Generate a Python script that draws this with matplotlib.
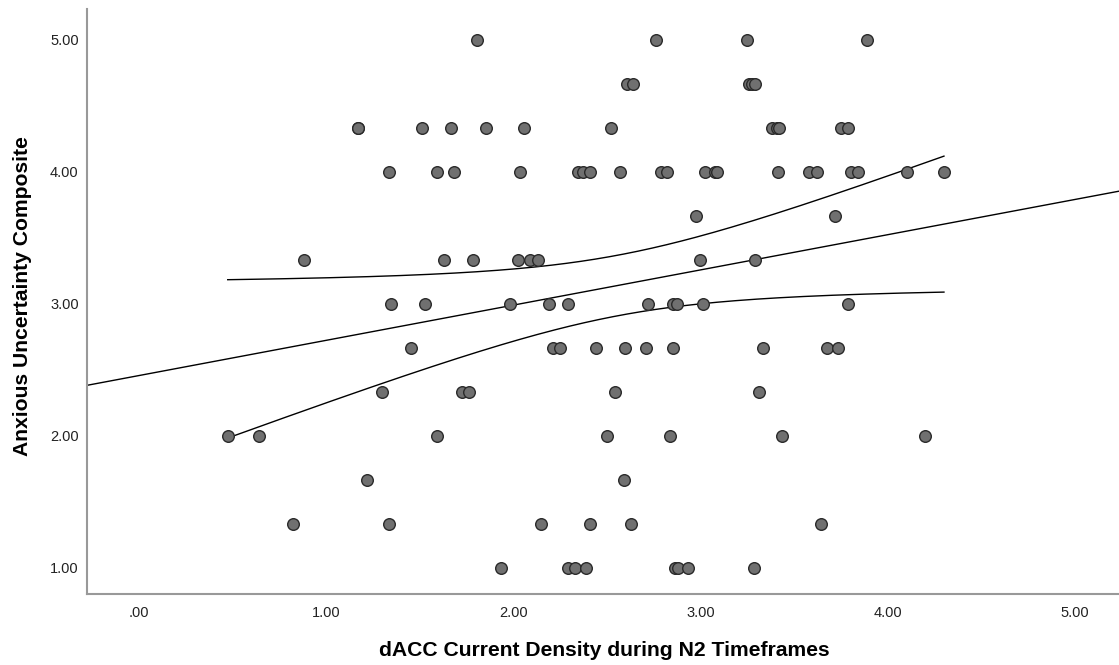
import numpy as np
import matplotlib
matplotlib.use("Agg")
import matplotlib.pyplot as plt

plt.rcParams['font.family'] = ['Liberation Sans', 'DejaVu Sans']

# Data: dACC current density (x) by anxious uncertainty composite level (y)
x_5_00 = [1.806, 2.762, 3.248, 3.889]
x_4_67 = [2.607, 2.639, 3.259, 3.274, 3.291]
x_4_33 = [1.170, 1.172, 1.512, 1.667, 1.854, 2.057, 2.521, 3.381, 3.408, 3.419, 3.750, 3.787]
x_4_00 = [1.335, 1.592, 1.683, 2.035, 2.345, 2.372, 2.409, 2.569, 2.788, 2.821,
          3.024, 3.077, 3.088, 3.413, 3.579, 3.622, 3.803, 3.841, 4.103, 4.300]
x_3_67 = [2.974, 3.718]
x_3_33 = [0.881, 1.629, 1.784, 2.025, 2.089, 2.131, 2.997, 3.291]
x_3_00 = [1.346, 1.528, 1.982, 2.190, 2.292, 2.719, 2.852, 2.874, 3.013, 3.787]
x_2_67 = [1.451, 2.210, 2.249, 2.441, 2.596, 2.708, 2.852, 3.333, 3.675, 3.734]
x_2_33 = [1.300, 1.724, 1.763, 2.544, 3.313]
x_2_00 = [0.474, 0.641, 1.593, 2.500, 2.838, 3.434, 4.199]
x_1_67 = [1.218, 2.591]
x_1_33 = [0.824, 1.334, 2.146, 2.411, 2.628, 3.641]
x_1_00 = [1.935, 2.293, 2.329, 2.388, 2.863, 2.877, 2.933, 3.285]

levels = [5.0, 14/3, 13/3, 4.0, 11/3, 10/3, 3.0, 8/3, 7/3, 2.0, 5/3, 4/3, 1.0]
groups = [x_5_00, x_4_67, x_4_33, x_4_00, x_3_67, x_3_33, x_3_00, x_2_67,
          x_2_33, x_2_00, x_1_67, x_1_33, x_1_00]

x = np.concatenate([np.array(g) for g in groups])
y = np.concatenate([np.full(len(g), lv) for g, lv in zip(groups, levels)])

x_ticks = [0, 1, 2, 3, 4, 5]
x_tick_labels = ['.00', '1.00', '2.00', '3.00', '4.00', '5.00']
y_ticks = [1, 2, 3, 4, 5]
y_tick_labels = ['1.00', '2.00', '3.00', '4.00', '5.00']

# Linear fit and 95% CI of the mean
n = len(x)
b1, b0 = np.polyfit(x, y, 1)
resid = y - (b0 + b1 * x)
s = np.sqrt(np.sum(resid ** 2) / (n - 2))
xm = x.mean()
sxx = np.sum((x - xm) ** 2)
tval = 1.9845  # t(0.975, df=97)

fig = plt.figure(figsize=(11.19, 6.65), dpi=100)
ax = fig.add_axes([0.0777, 0.1068, 0.9223, 0.8797])

xlim = (-0.278, 5.235)
ylim = (0.803, 5.235)

xl = np.linspace(xlim[0], xlim[1], 200)
ax.plot(xl, b0 + b1 * xl, color='black', lw=1.0, zorder=2)

xc = np.linspace(x.min(), x.max(), 200)
se = s * np.sqrt(1 / n + (xc - xm) ** 2 / sxx)
yc = b0 + b1 * xc
ax.plot(xc, yc + tval * se, color='black', lw=1.0, zorder=2)
ax.plot(xc, yc - tval * se, color='black', lw=1.0, zorder=2)

ax.scatter(x, y, s=70, facecolor='#707070', edgecolor='#2a2a2a', linewidth=1.0, zorder=3)

ax.set_xlim(*xlim)
ax.set_ylim(*ylim)
ax.set_xticks(x_ticks)
ax.set_xticklabels(x_tick_labels)
ax.set_yticks(y_ticks)
ax.set_yticklabels(y_tick_labels)
ax.tick_params(length=0, labelsize=10.5, colors='#222222')
ax.tick_params(axis='x', pad=9)
ax.tick_params(axis='y', pad=6)

for sp in ['top', 'right']:
    ax.spines[sp].set_visible(False)
for sp in ['left', 'bottom']:
    ax.spines[sp].set_color('#999999')
    ax.spines[sp].set_linewidth(1.5)

ax.set_xlabel('dACC Current Density during N2 Timeframes', fontsize=15.2,
              fontweight='bold', va='center')
ax.set_ylabel('Anxious Uncertainty Composite', fontsize=15.2,
              fontweight='bold', va='center')
ax.xaxis.set_label_coords(0.501, -0.0974)
ax.yaxis.set_label_coords(-0.0620, 0.509)

fig.savefig('out.png', dpi=100)
